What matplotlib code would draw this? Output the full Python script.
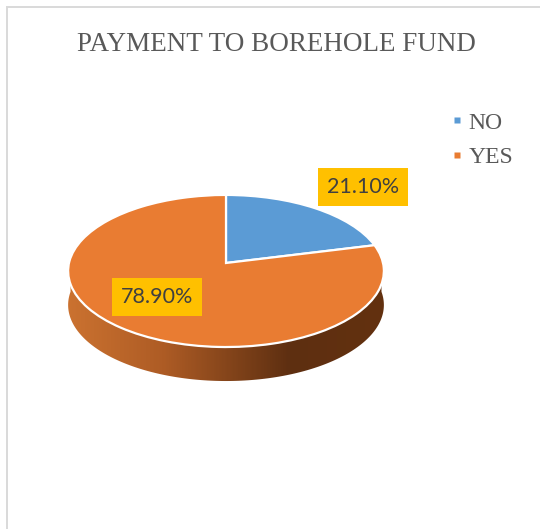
import numpy as np
import matplotlib
matplotlib.use("Agg")
import matplotlib.pyplot as plt
from matplotlib.colors import LinearSegmentedColormap
from matplotlib.lines import Line2D
from matplotlib.patches import Polygon
from matplotlib.transforms import Transform

title = "PAYMENT TO BOREHOLE FUND"
categories = ["NO", "YES"]
values = [21.10, 78.90]
value_labels = ["21.10%", "78.90%"]
colors = ["#5B9BD5", "#E97C32"]

W, H, DPI = 540, 529, 100
CX, CY, A, B, K, DEPTH = 226.0, 263.0, 157.0, 75.2, 0.105, 34.0


class Tilt(Transform):
    """Perspective projection of a flat unit-radius pie into pixel-like axes units."""
    input_dims = output_dims = 2

    def __init__(self, dy=0.0):
        super().__init__()
        self.dy = dy

    def transform_non_affine(self, values):
        p = np.asarray(values, float)
        w = 1 + K * p[:, 1]
        return np.column_stack((CX + A * p[:, 0] / w, CY + self.dy - B * p[:, 1] / w))


fig = plt.figure(figsize=(W / DPI, H / DPI), dpi=DPI, facecolor="white")
ax = fig.add_axes([0, 0, 1, 1])

# Side wall with its horizontal shading
t = np.radians(np.linspace(176, 364, 200))
rim = np.column_stack((np.cos(t), np.sin(t)))
outline = np.vstack((Tilt().transform(rim), Tilt(DEPTH).transform(rim)[::-1]))
wall = Polygon(outline, closed=True, facecolor="none", edgecolor="none", transform=ax.transData)
ax.add_patch(wall)
shade = LinearSegmentedColormap.from_list(
    "side", [(0, "#CB7230"), (0.30, "#AE5C25"), (0.70, "#5E2F11"), (1, "#63310F")]
)
img = ax.imshow(np.linspace(0, 1, 320)[None, :], cmap=shade, aspect="auto", zorder=1,
                extent=(CX - A - 2, CX + A + 2, CY + 140, CY - 20), interpolation="bilinear")
img.set_clip_path(wall)

# Top face
wedges, _ = ax.pie(values, colors=colors, startangle=90, counterclock=False, frame=True,
                   wedgeprops=dict(edgecolor="white", linewidth=1.6))
for wedge in wedges:
    wedge.set_transform(Tilt() + ax.transData)
    wedge.set_zorder(2)

ax.set_aspect("auto")
ax.set_xlim(0, W)
ax.set_ylim(H, 0)
ax.axis("off")

# Chart frame (left and top edges only)
ax.plot([6.5, 6.5, W], [H, 6.5, 6.5], color="#D9D9D9", lw=1.4, zorder=0, solid_joinstyle="miter")

# Data labels
label_pos = [(363, 187), (157, 297)]
for (x, y), s in zip(label_pos, value_labels):
    ax.text(x, y, s, ha="center", va="center", fontsize=15.5, color="#404040", family="Lato",
            zorder=4,
            bbox=dict(facecolor="#FFC000", edgecolor="none", boxstyle="square,pad=0.40"))

fig.text(276 / W, 1 - 44.5 / H, title, ha="center", va="center", family="Liberation Serif",
         fontsize=19.5, color="#595959")

handles = [Line2D([], [], ls="none", marker="s", ms=5, mfc=c, mec="none") for c in colors]
ax.legend(handles, categories, loc="upper left", bbox_to_anchor=(450 / W, 1 - 112 / H),
          bbox_transform=fig.transFigure, frameon=False, handlelength=0.6, handletextpad=0.17,
          labelspacing=0.55, borderpad=0, borderaxespad=0,
          prop=dict(family="Liberation Serif", size=17), labelcolor="#595959")

fig.savefig("out.png", dpi=DPI, facecolor="white")
